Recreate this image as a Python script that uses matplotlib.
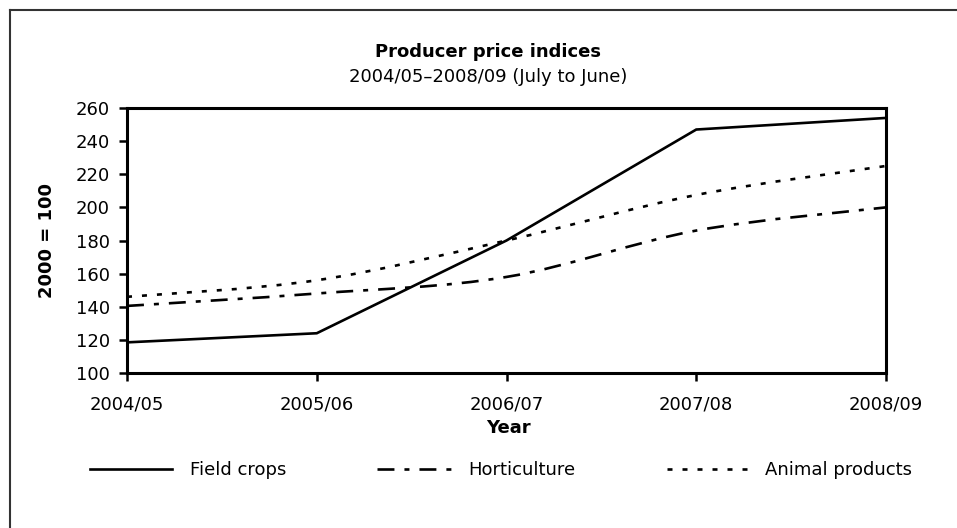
import matplotlib
matplotlib.use("Agg")
import matplotlib.pyplot as plt
import numpy as np
from matplotlib.path import Path
from matplotlib.patches import PathPatch
from matplotlib.lines import Line2D

plt.rcParams['font.family'] = ['DejaVu Sans']
plt.rcParams['lines.scale_dashes'] = False

years = ["2004/05", "2005/06", "2006/07", "2007/08", "2008/09"]
field_crops = [118.5, 124, 180, 247, 254]
horticulture = [140.5, 148, 158, 186, 200]
animal_products = [146, 156, 180, 207.5, 225]
series_labels = ["Field crops", "Horticulture", "Animal products"]

W, H = 957, 528
fig = plt.figure(figsize=(W / 100, H / 100), dpi=100)

def fx(px):
    return px / W

def fy(py):
    return 1 - py / H

ax = fig.add_axes([fx(127), fy(373), fx(886) - fx(127), fy(108) - fy(373)])

x = np.arange(len(years))


def smooth_path(xs, ys):
    pts = np.column_stack([xs, ys]).astype(float)
    n = len(pts)
    verts = [pts[0]]
    codes = [Path.MOVETO]
    for i in range(n - 1):
        p0 = pts[i - 1] if i > 0 else pts[i]
        p1 = pts[i]
        p2 = pts[i + 1]
        p3 = pts[i + 2] if i + 2 < n else pts[i + 1]
        c1 = p1 + (p2 - p0) / 6.0
        c2 = p2 - (p3 - p1) / 6.0
        verts += [c1, c2, p2]
        codes += [Path.CURVE4] * 3
    return Path(verts, codes)


lw = 1.9
FS = 13
dashdot = (0, (12.2, 7.2, 3.6, 7.2))
dotted = (0, (3.6, 7.2))

ax.plot(x, field_crops, color='black', lw=lw, solid_joinstyle='miter')
ax.add_patch(PathPatch(smooth_path(x, horticulture), fill=False, edgecolor='black',
                       lw=lw, linestyle=dashdot))
ax.add_patch(PathPatch(smooth_path(x, animal_products), fill=False, edgecolor='black',
                       lw=lw, linestyle=dotted))

ax.set_xlim(0, len(years) - 1)
ax.set_ylim(100, 260)
ax.set_yticks(np.arange(100, 261, 20))
ax.set_xticks(x)
ax.set_xticklabels(years)
ax.tick_params(axis='both', direction='out', length=6, width=1.8, labelsize=FS,
               colors='black')
ax.tick_params(axis='x', pad=10)
ax.tick_params(axis='y', pad=6.5)
for s in ax.spines.values():
    s.set_linewidth(2.2)
    s.set_color('black')

fig.text(fx(508), fy(433), "Year", ha='center', va='baseline',
         fontsize=FS, fontweight='bold')
fig.text(fx(47), fy(240), "2000 = 100", rotation=90, ha='center', va='center',
         fontsize=FS, fontweight='bold')

fig.text(fx(488), fy(57), "Producer price indices", ha='center', va='baseline',
         fontsize=FS, fontweight='bold')
fig.text(fx(488), fy(82), "2004/05\u20132008/09 (July to June)", ha='center',
         va='baseline', fontsize=FS)

styles = ['-', dashdot, dotted]
starts = [90, 377, 667]
pads = [1.0, 0.5, 0.9]
for lab, ls, sx, pd in zip(series_labels, styles, starts, pads):
    h = Line2D([], [], color='black', lw=lw, linestyle=ls)
    fig.legend([h], [lab], loc='center left', bbox_to_anchor=(fx(sx), fy(470)),
               frameon=False, fontsize=FS, handlelength=82 / 18.06,
               handletextpad=pd, borderpad=0, borderaxespad=0)

# outer frame (top and left edges visible)
fig.add_artist(Line2D([fx(10), fx(10)], [fy(10), 0], transform=fig.transFigure,
                      color='#333333', lw=1.5))
fig.add_artist(Line2D([fx(10), 1], [fy(10), fy(10)], transform=fig.transFigure,
                      color='#333333', lw=1.5))

fig.savefig("out.png", dpi=100)
